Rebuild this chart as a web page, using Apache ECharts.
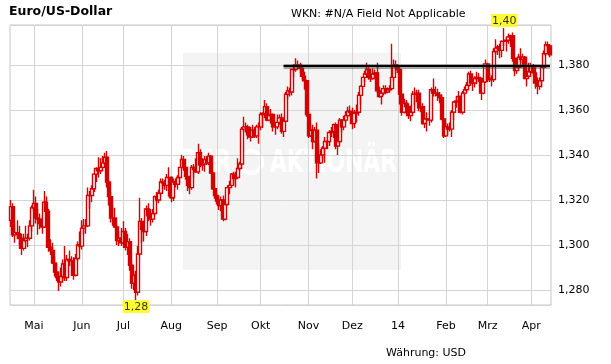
<!DOCTYPE html>
<html><head><meta charset="utf-8">
<script src="https://cdn.jsdelivr.net/npm/echarts/dist/echarts.min.js"></script>
<style>html,body{margin:0;padding:0;background:#fff}#c{width:611px;height:364px}</style>
</head><body><div id="c"></div>
<script>
// Trading days (Mon-Fri) shown on the chart
const startDate = '2013-04-16';
const endDate = '2014-04-14';
// Month tick labels, January..December (January shows the year)
const monthLabels = ['14','Feb','Mrz','Apr','Mai','Jun','Jul','Aug','Sep','Okt','Nov','Dez'];
const yTickStep = 0.02;

// Daily EUR/USD OHLC, grouped by month
const opens = [
 1.3110,1.3170,1.3045,1.3055,1.3050,1.3030,1.2985,1.3020,1.3030,1.3030,1.3085,
 1.3165,1.3185,1.3120,1.3115,1.3095,1.3080,1.3190,1.3150,1.2990,1.2975,1.2920,1.2880,1.2855,1.2835,1.2860,1.2915,1.2855,1.2935,1.2930,1.2930,1.2865,1.2940,1.3000,
 1.2995,1.3075,1.3085,1.3085,1.3220,1.3220,1.3250,1.3315,1.3340,1.3330,1.3345,1.3365,1.3390,1.3280,1.3215,1.3120,1.3120,1.3080,1.3020,1.3030,
 1.3010,1.3060,1.2990,1.3015,1.2910,1.2830,1.2865,1.2790,1.2960,1.3105,1.3070,1.3060,1.3160,1.3130,1.3115,1.3140,1.3215,1.3200,1.3230,1.3280,1.3275,1.3265,1.3300,
 1.3300,1.3210,1.3280,1.3270,1.3300,1.3345,1.3380,1.3345,1.3305,1.3265,1.3255,1.3345,1.3335,1.3325,1.3410,1.3355,1.3360,1.3380,1.3365,1.3395,1.3320,1.3250,
 1.3220,1.3195,1.3175,1.3200,1.3115,1.3180,1.3255,1.3265,1.3315,1.3295,1.3300,1.3340,1.3360,1.3515,1.3525,1.3525,1.3490,1.3480,1.3510,1.3485,1.3525,
 1.3525,1.3580,1.3585,1.3615,1.3555,1.3575,1.3580,1.3525,1.3525,1.3545,1.3565,1.3505,1.3550,1.3670,1.3685,1.3680,1.3780,1.3780,1.3800,1.3800,1.3785,1.3750,1.3730,
 1.3580,1.3485,1.3510,1.3460,1.3510,1.3365,1.3365,1.3400,1.3430,1.3460,1.3460,1.3500,1.3505,1.3535,1.3440,1.3460,1.3555,1.3525,1.3555,1.3575,1.3595,
 1.3590,1.3540,1.3585,1.3590,1.3665,1.3705,1.3745,1.3760,1.3780,1.3745,1.3740,1.3760,1.3765,1.3685,1.3660,1.3675,1.3695,1.3680,1.3690,1.3695,1.3745,1.3800,
 1.3790,1.3780,1.3670,1.3590,1.3630,1.3615,1.3575,1.3590,1.3670,1.3670,1.3675,1.3610,1.3615,1.3540,1.3560,1.3560,1.3555,1.3690,1.3675,1.3675,1.3665,1.3655,1.3560,
 1.3485,1.3525,1.3515,1.3515,1.3590,1.3635,1.3640,1.3660,1.3590,1.3675,1.3690,1.3710,1.3760,1.3720,1.3720,1.3740,1.3745,1.3740,1.3675,1.3725,
 1.3805,1.3735,1.3740,1.3735,1.3860,1.3875,1.3880,1.3865,1.3905,1.3905,1.3910,1.3925,1.3930,1.3830,1.3775,1.3790,1.3835,1.3825,1.3835,1.3740,1.3750,
 1.3770,1.3795,1.3765,1.3720,1.3705,1.3730,1.3790,1.3850,1.3890,1.3885
];
const highs = [
 1.3200,1.3185,1.3095,1.3110,1.3085,1.3050,1.3050,1.3085,1.3050,1.3110,1.3175,
 1.3245,1.3215,1.3160,1.3140,1.3130,1.3240,1.3215,1.3160,1.3025,1.3010,1.2950,1.2915,1.2875,1.2900,1.2935,1.2995,1.2955,1.2975,1.2950,1.2945,1.2960,1.3015,1.3060,
 1.3110,1.3115,1.3115,1.3255,1.3240,1.3265,1.3320,1.3345,1.3390,1.3385,1.3395,1.3410,1.3418,1.3290,1.3235,1.3175,1.3165,1.3090,1.3060,1.3075,
 1.3105,1.3075,1.3050,1.3030,1.2930,1.2885,1.2885,1.2995,1.3210,1.3120,1.3105,1.3175,1.3185,1.3160,1.3160,1.3220,1.3235,1.3245,1.3295,1.3295,1.3290,1.3315,1.3345,
 1.3305,1.3295,1.3295,1.3310,1.3345,1.3400,1.3395,1.3350,1.3310,1.3290,1.3355,1.3360,1.3385,1.3450,1.3425,1.3385,1.3395,1.3395,1.3410,1.3400,1.3330,1.3260,
 1.3230,1.3210,1.3215,1.3220,1.3190,1.3265,1.3285,1.3320,1.3325,1.3325,1.3385,1.3370,1.3525,1.3570,1.3545,1.3535,1.3525,1.3535,1.3525,1.3535,1.3545,
 1.3590,1.3590,1.3645,1.3630,1.3600,1.3605,1.3585,1.3545,1.3580,1.3580,1.3585,1.3560,1.3680,1.3705,1.3700,1.3785,1.3805,1.3830,1.3820,1.3810,1.3790,1.3770,1.3735,
 1.3590,1.3525,1.3535,1.3525,1.3545,1.3450,1.3425,1.3440,1.3480,1.3480,1.3510,1.3525,1.3540,1.3545,1.3470,1.3565,1.3560,1.3575,1.3595,1.3615,1.3620,
 1.3610,1.3600,1.3625,1.3680,1.3710,1.3745,1.3775,1.3810,1.3790,1.3765,1.3785,1.3780,1.3810,1.3705,1.3690,1.3710,1.3710,1.3700,1.3710,1.3895,1.3825,1.3820,
 1.3805,1.3785,1.3675,1.3650,1.3645,1.3630,1.3620,1.3685,1.3700,1.3690,1.3690,1.3635,1.3630,1.3575,1.3590,1.3590,1.3700,1.3740,1.3705,1.3695,1.3680,1.3670,1.3565,
 1.3540,1.3540,1.3545,1.3600,1.3640,1.3660,1.3685,1.3665,1.3685,1.3705,1.3725,1.3770,1.3775,1.3730,1.3750,1.3770,1.3765,1.3745,1.3735,1.3825,
 1.3810,1.3765,1.3755,1.3875,1.3915,1.3890,1.3895,1.3910,1.3965,1.3925,1.3940,1.3935,1.3945,1.3835,1.3815,1.3850,1.3875,1.3850,1.3840,1.3780,1.3810,
 1.3810,1.3805,1.3790,1.3745,1.3745,1.3800,1.3865,1.3905,1.3905,1.3890
];
const lows = [
 1.3080,1.3035,1.3010,1.3025,1.3000,1.2955,1.2975,1.3010,1.2990,1.3020,1.3060,
 1.3150,1.3095,1.3045,1.3070,1.3050,1.3075,1.3115,1.2970,1.2955,1.2915,1.2860,1.2840,1.2795,1.2815,1.2840,1.2840,1.2840,1.2905,1.2905,1.2845,1.2860,1.2930,1.2985,
 1.2980,1.3045,1.3050,1.3080,1.3160,1.3190,1.3235,1.3280,1.3300,1.3315,1.3330,1.3350,1.3255,1.3175,1.3100,1.3085,1.3075,1.3000,1.2995,1.2995,
 1.3005,1.2975,1.2955,1.2885,1.2805,1.2800,1.2755,1.2775,1.2950,1.3010,1.3015,1.3040,1.3105,1.3085,1.3100,1.3130,1.3190,1.3185,1.3220,1.3250,1.3245,1.3240,1.3215,
 1.3190,1.3195,1.3255,1.3245,1.3275,1.3335,1.3330,1.3290,1.3240,1.3225,1.3245,1.3300,1.3320,1.3315,1.3345,1.3330,1.3325,1.3355,1.3355,1.3315,1.3245,1.3205,
 1.3180,1.3155,1.3150,1.3105,1.3110,1.3175,1.3225,1.3255,1.3270,1.3255,1.3295,1.3330,1.3340,1.3505,1.3500,1.3470,1.3460,1.3475,1.3475,1.3475,1.3450,
 1.3510,1.3520,1.3565,1.3550,1.3550,1.3540,1.3505,1.3490,1.3515,1.3535,1.3495,1.3480,1.3545,1.3650,1.3660,1.3665,1.3745,1.3770,1.3780,1.3765,1.3735,1.3690,1.3570,
 1.3475,1.3480,1.3425,1.3455,1.3295,1.3320,1.3360,1.3380,1.3365,1.3425,1.3440,1.3480,1.3475,1.3425,1.3400,1.3450,1.3500,1.3510,1.3545,1.3565,1.3585,
 1.3515,1.3520,1.3545,1.3575,1.3625,1.3690,1.3725,1.3750,1.3735,1.3725,1.3735,1.3745,1.3675,1.3655,1.3625,1.3665,1.3670,1.3675,1.3680,1.3690,1.3730,1.3760,
 1.3765,1.3625,1.3575,1.3585,1.3595,1.3560,1.3550,1.3580,1.3620,1.3635,1.3595,1.3590,1.3535,1.3520,1.3505,1.3530,1.3545,1.3660,1.3660,1.3640,1.3630,1.3555,1.3475,
 1.3480,1.3490,1.3505,1.3480,1.3555,1.3610,1.3630,1.3585,1.3580,1.3665,1.3680,1.3700,1.3715,1.3685,1.3700,1.3715,1.3725,1.3645,1.3670,1.3720,
 1.3725,1.3725,1.3705,1.3725,1.3850,1.3845,1.3830,1.3835,1.3885,1.3860,1.3895,1.3880,1.3815,1.3750,1.3760,1.3775,1.3810,1.3790,1.3740,1.3705,1.3745,
 1.3765,1.3750,1.3695,1.3670,1.3690,1.3700,1.3780,1.3840,1.3855,1.3835
];
const closes = [
 1.3170,1.3045,1.3055,1.3050,1.3030,1.2985,1.3020,1.3030,1.3030,1.3085,1.3165,
 1.3185,1.3120,1.3115,1.3095,1.3080,1.3190,1.3150,1.2990,1.2975,1.2920,1.2880,1.2855,1.2835,1.2860,1.2915,1.2855,1.2935,1.2930,1.2930,1.2865,1.2940,1.3000,1.2995,
 1.3075,1.3085,1.3085,1.3220,1.3220,1.3250,1.3315,1.3340,1.3330,1.3345,1.3365,1.3390,1.3280,1.3215,1.3120,1.3120,1.3080,1.3020,1.3030,1.3010,
 1.3060,1.2990,1.3015,1.2910,1.2830,1.2865,1.2790,1.2960,1.3105,1.3070,1.3060,1.3160,1.3130,1.3115,1.3140,1.3215,1.3200,1.3230,1.3280,1.3275,1.3265,1.3300,1.3300,
 1.3210,1.3280,1.3270,1.3300,1.3345,1.3380,1.3345,1.3305,1.3265,1.3255,1.3345,1.3335,1.3325,1.3410,1.3355,1.3360,1.3380,1.3365,1.3395,1.3320,1.3250,1.3220,
 1.3195,1.3175,1.3200,1.3115,1.3180,1.3255,1.3265,1.3315,1.3295,1.3300,1.3340,1.3360,1.3515,1.3525,1.3525,1.3490,1.3480,1.3510,1.3485,1.3525,1.3525,
 1.3580,1.3585,1.3615,1.3555,1.3575,1.3580,1.3525,1.3525,1.3545,1.3565,1.3505,1.3550,1.3670,1.3685,1.3680,1.3780,1.3780,1.3800,1.3800,1.3785,1.3750,1.3730,1.3580,
 1.3485,1.3510,1.3460,1.3510,1.3365,1.3365,1.3400,1.3430,1.3460,1.3460,1.3500,1.3505,1.3535,1.3440,1.3460,1.3555,1.3525,1.3555,1.3575,1.3595,1.3590,
 1.3540,1.3585,1.3590,1.3665,1.3705,1.3745,1.3760,1.3780,1.3745,1.3740,1.3760,1.3765,1.3685,1.3660,1.3675,1.3695,1.3680,1.3690,1.3695,1.3745,1.3800,1.3790,
 1.3780,1.3670,1.3590,1.3630,1.3615,1.3575,1.3590,1.3670,1.3670,1.3675,1.3610,1.3615,1.3540,1.3560,1.3560,1.3555,1.3690,1.3675,1.3675,1.3665,1.3655,1.3560,1.3485,
 1.3525,1.3515,1.3515,1.3590,1.3635,1.3640,1.3660,1.3590,1.3675,1.3690,1.3710,1.3760,1.3720,1.3720,1.3740,1.3745,1.3740,1.3675,1.3725,1.3805,
 1.3735,1.3740,1.3735,1.3860,1.3875,1.3880,1.3865,1.3905,1.3905,1.3910,1.3925,1.3930,1.3830,1.3775,1.3790,1.3835,1.3825,1.3835,1.3740,1.3750,1.3770,
 1.3795,1.3765,1.3720,1.3705,1.3730,1.3790,1.3850,1.3890,1.3885,1.3845
];
// Horizontal resistance line
const resistanceLevel = 1.3795;
const resistanceStartDay = '2013-10-16';

// ---- build categories (weekdays) ----
const dates = [];
{
  const d = new Date(startDate + 'T00:00:00Z');
  const e = new Date(endDate + 'T00:00:00Z');
  while (d <= e) {
    const wd = d.getUTCDay();
    if (wd !== 0 && wd !== 6) dates.push(d.toISOString().slice(0, 10));
    d.setUTCDate(d.getUTCDate() + 1);
  }
}
const isMonthStart = dates.map((s, i) => i > 0 && s.slice(5, 7) !== dates[i - 1].slice(5, 7));
const labelFor = s => monthLabels[(+s.slice(5, 7)) - 1];

const candles = dates.map((s, i) => [opens[i], closes[i], lows[i], highs[i]]);
let maxI = 0, minI = 0;
highs.forEach((v, i) => { if (v > highs[maxI]) maxI = i; });
lows.forEach((v, i) => { if (v < lows[minI]) minI = i; });
const lastDay = dates[dates.length - 1];

const RED = '#d40000';
const GRID = '#d4d4d4';
const FONT = 'DejaVu Sans';

const chart = echarts.init(document.getElementById('c'), null, {renderer: 'canvas'});
chart.setOption({
  animation: false,
  backgroundColor: '#fff',
  textStyle: {fontFamily: FONT},
  title: [
    {text: 'Euro/US-Dollar', left: 9, top: 5, padding: 0,
     textStyle: {fontFamily: FONT, fontSize: 12.5, fontWeight: 'bold', color: '#000'}},
    {text: 'WKN: #N/A Field Not Applicable', left: 291, top: 9, padding: 0,
     textStyle: {fontFamily: FONT, fontSize: 11, fontWeight: 'normal', color: '#000'}},
    {text: 'Währung: USD', left: 386, top: 348, padding: 0,
     textStyle: {fontFamily: FONT, fontSize: 11, fontWeight: 'normal', color: '#000'}}
  ],
  graphic: [
    {type: 'rect', z: -10, silent: true, shape: {x: 183, y: 53, width: 218, height: 217}, style: {fill: '#f4f4f4'}},
    {type: 'text', z: -9, silent: true, x: 180, y: 148, scaleX: 0.7,
     style: {text: 'DER', fill: '#fff', font: 'bold 32px "DejaVu Sans"'}},
    {type: 'circle', z: -9, silent: true, shape: {cx: 251, cy: 162, r: 11}, style: {fill: 'none', stroke: '#fff', lineWidth: 4}},
    {type: 'text', z: -9, silent: true, x: 270, y: 148, scaleX: 0.68,
     style: {text: 'AKTIONÄR', fill: '#fff', font: 'bold 32px "DejaVu Sans"'}}
  ],
  grid: {left: 10, right: 60, top: 25, bottom: 59, show: true, borderColor: '#c8c8c8', borderWidth: 1, backgroundColor: 'transparent'},
  xAxis: {
    type: 'category', data: dates, boundaryGap: true,
    axisLine: {show: false}, axisTick: {show: false},
    axisLabel: {interval: (i) => isMonthStart[i], formatter: (v) => labelFor(v),
      fontFamily: FONT, fontSize: 11, color: '#000', margin: 16},
    splitLine: {show: true, interval: (i) => isMonthStart[i], alignWithLabel: true, lineStyle: {color: GRID, width: 1}}
  },
  yAxis: {
    type: 'value', position: 'right', min: 1.2733, max: 1.3978,
    minInterval: yTickStep, maxInterval: yTickStep, splitNumber: 6,
    axisLine: {show: false}, axisTick: {show: false},
    axisLabel: {showMinLabel: false, showMaxLabel: false,
      formatter: (v) => v.toFixed(3).replace('.', ','),
      fontFamily: FONT, fontSize: 11, color: '#000', margin: 7},
    splitLine: {show: true, lineStyle: {color: GRID, width: 1}}
  },
  series: [
    {
      type: 'candlestick', data: candles, barWidth: 3.5, z: 3,
      itemStyle: {color: '#ffffff', color0: RED, borderColor: RED, borderColor0: RED, borderWidth: 1.4},
      markLine: {
        symbol: 'none', silent: true, animation: false, label: {show: false},
        data: [
          [{coord: [resistanceStartDay, resistanceLevel], lineStyle: {color: 'rgba(60,60,60,0.45)', width: 5, type: 'solid'}},
           {coord: [lastDay, resistanceLevel]}],
          [{coord: [resistanceStartDay, resistanceLevel], lineStyle: {color: '#000', width: 2, type: 'solid'}},
           {coord: [lastDay, resistanceLevel]}]
        ]
      }
    },
    {
      type: 'scatter', z: 6, symbolSize: 0, silent: true,
      label: {show: true, fontFamily: FONT, fontSize: 11, color: '#000', backgroundColor: '#ffff00',
        padding: [1, 1, 0, 1], lineHeight: 12,
        formatter: (p) => p.value[1].toFixed(2).replace('.', ',')},
      data: [
        {value: [dates[maxI], highs[maxI]], label: {position: 'top', distance: 1}},
        {value: [dates[minI], lows[minI]], label: {position: 'bottom', distance: 0}}
      ]
    }
  ]
});
</script>
</body></html>
